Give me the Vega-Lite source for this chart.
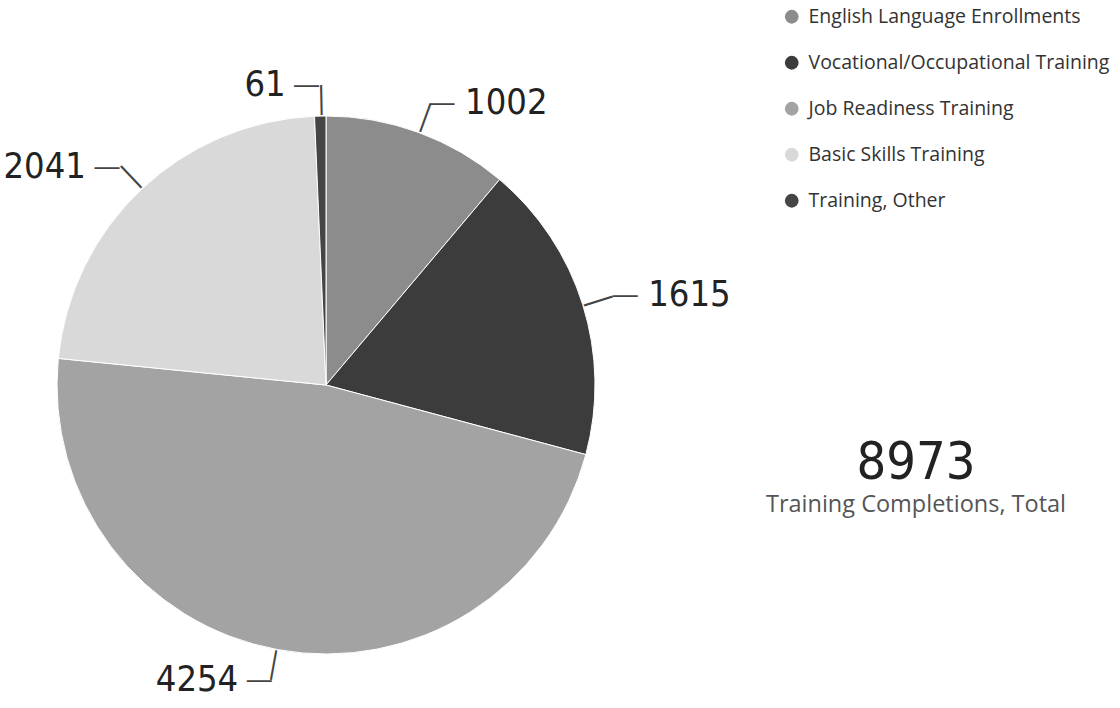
{
  "$schema": "https://vega.github.io/schema/vega-lite/v6.json",
  "width": 652,
  "height": 646,
  "autosize": {"type": "none"},
  "padding": {"top": 62, "left": 0, "right": 468, "bottom": 0},
  "background": "white",
  "config": {"view": {"stroke": null}},
  "title": {
    "text": "8973",
    "subtitle": "Training Completions, Total",
    "orient": "top",
    "anchor": "middle",
    "frame": "group",
    "dx": 590,
    "dy": 514,
    "font": "DejaVu Sans Condensed, Roboto",
    "fontSize": 52,
    "fontWeight": "normal",
    "color": "#222222",
    "subtitleFont": "Open Sans",
    "subtitleFontSize": 23.5,
    "subtitleColor": "#555555",
    "subtitlePadding": 3
  },
  "data": {
    "values": [
      {"category": "English Language Enrollments", "value": 1002, "rank": 1},
      {"category": "Vocational/Occupational Training", "value": 1615, "rank": 2},
      {"category": "Job Readiness Training", "value": 4254, "rank": 3},
      {"category": "Basic Skills Training", "value": 2041, "rank": 4},
      {"category": "Training, Other", "value": 61, "rank": 5}
    ]
  },
  "encoding": {
    "theta": {"field": "value", "type": "quantitative", "stack": true},
    "order": {"field": "rank", "type": "quantitative"}
  },
  "layer": [
    {
      "mark": {"type": "arc", "outerRadius": 269, "stroke": "white", "strokeWidth": 1},
      "encoding": {
        "color": {
          "field": "category",
          "type": "nominal",
          "sort": ["English Language Enrollments", "Vocational/Occupational Training", "Job Readiness Training", "Basic Skills Training", "Training, Other"],
          "scale": {
            "domain": ["English Language Enrollments", "Vocational/Occupational Training", "Job Readiness Training", "Basic Skills Training", "Training, Other"],
            "range": ["#8c8c8c", "#3c3c3c", "#a3a3a3", "#d9d9d9", "#454545"]
          },
          "legend": {
            "title": null,
            "orient": "none",
            "legendX": 782,
            "legendY": -55,
            "symbolType": "circle",
            "symbolSize": 190,
            "symbolStrokeWidth": 0,
            "labelFont": "Open Sans",
            "labelFontSize": 19.5,
            "labelColor": "#333333",
            "labelLimit": 0,
            "rowPadding": 25,
            "labelOffset": 7
          }
        }
      }
    },
    {
      "mark": {"type": "text", "radius": 285, "text": "—", "font": "Liberation Sans", "fontSize": 30, "color": "#444444", "align": "center", "baseline": "middle"},
      "encoding": {
        "angle": {
          "field": "category",
          "type": "nominal",
          "legend": null,
          "scale": {
            "type": "ordinal",
            "domain": ["English Language Enrollments", "Vocational/Occupational Training", "Job Readiness Training", "Basic Skills Training", "Training, Other"],
            "range": [-69.9, -17.4, 100.3, 226.6, 268.8]
          }
        }
      }
    },
    {
      "mark": {"type": "text", "radius": 300, "dx": 13, "font": "Liberation Sans", "fontSize": 25, "color": "#444444", "align": "center", "baseline": "middle"},
      "encoding": {
        "text": {
          "condition": {"test": "datum.category === 'English Language Enrollments' || datum.category === 'Vocational/Occupational Training'", "value": "—"},
          "value": ""
        }
      }
    },
    {
      "mark": {"type": "text", "radius": 300, "dx": -13, "font": "Liberation Sans", "fontSize": 25, "color": "#444444", "align": "center", "baseline": "middle"},
      "encoding": {
        "text": {
          "condition": {"test": "datum.category === 'English Language Enrollments' || datum.category === 'Vocational/Occupational Training'", "value": ""},
          "value": "—"
        }
      }
    },
    {
      "mark": {"type": "text", "radius": 300, "dx": 36, "font": "DejaVu Sans Condensed, Roboto", "fontSize": 36, "color": "#222222", "align": "left", "baseline": "middle"},
      "encoding": {
        "text": {
          "condition": {"test": "datum.category !== 'English Language Enrollments' && datum.category !== 'Vocational/Occupational Training'", "value": ""},
          "field": "value",
          "type": "quantitative",
          "format": "d"
        }
      }
    },
    {
      "mark": {"type": "text", "radius": 300, "dx": -34, "font": "DejaVu Sans Condensed, Roboto", "fontSize": 36, "color": "#222222", "align": "right", "baseline": "middle"},
      "encoding": {
        "text": {
          "condition": {"test": "datum.category === 'English Language Enrollments' || datum.category === 'Vocational/Occupational Training'", "value": ""},
          "field": "value",
          "type": "quantitative",
          "format": "d"
        }
      }
    }
  ]
}
